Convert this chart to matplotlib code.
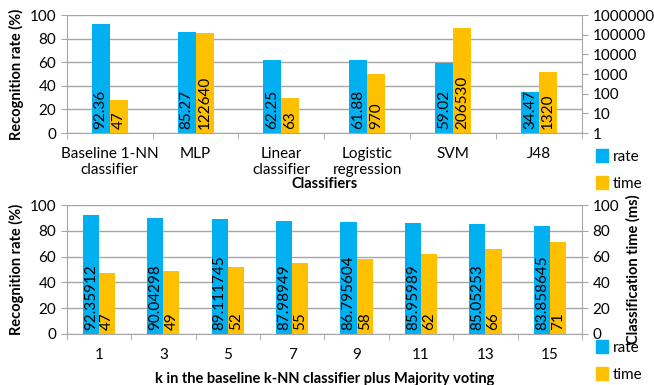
import matplotlib
matplotlib.use('Agg')
import matplotlib.pyplot as plt
import numpy as np
from matplotlib.patches import Patch

plt.rcParams['font.family'] = ['Lato', 'DejaVu Sans']
plt.rcParams['font.size'] = 10

BLUE = '#00B0F0'
ORANGE = '#FFC000'
GRID = '#A6A6A6'

# top chart data
classifiers = ['Baseline 1-NN\nclassifier', 'MLP', 'Linear\nclassifier',
               'Logistic\nregression', 'SVM', 'J48']
rate_top = [92.36, 85.27, 62.25, 61.88, 59.02, 34.47]
time_top = [47, 122640, 63, 970, 206530, 1320]

# bottom chart data
k_values = ['1', '3', '5', '7', '9', '11', '13', '15']
rate_bot = [92.35912, 90.04298, 89.111745, 87.98949, 86.795604, 85.95989, 85.05253, 83.858645]
rate_bot_lbl = ['92.35912', '90.04298', '89.111745', '87.98949', '86.795604',
                '85.95989', '85.05253', '83.858645']
time_bot = [47, 49, 52, 55, 58, 62, 66, 71]


def style(ax, ax2, n):
    ax.spines['top'].set_visible(False)
    ax2.spines['top'].set_visible(False)
    for s in ['left', 'bottom']:
        ax.spines[s].set_color(GRID)
    ax2.spines['right'].set_color(GRID)
    ax2.spines['left'].set_visible(False)
    ax2.spines['bottom'].set_visible(False)
    ax.spines['right'].set_visible(False)
    ax.set_ylim(0, 100)
    ax.set_yticks(range(0, 101, 20))
    ax.yaxis.grid(True, color=GRID, linewidth=1)
    ax.set_axisbelow(True)
    ax.set_xlim(-0.5, n - 0.5)
    ax.set_xticks(np.arange(n))
    ax.set_xticks(np.arange(n + 1) - 0.5, minor=True)
    ax.tick_params(axis='x', which='major', length=0, pad=10)
    ax.tick_params(axis='x', which='minor', length=4, color=GRID)
    ax.tick_params(axis='y', length=4, color=GRID, labelsize=11)
    ax2.tick_params(axis='y', length=4, color=GRID, labelsize=11)
    ax.set_ylabel('Recognition rate (%)', fontweight='bold', labelpad=4, fontsize=10.5)
    ax2.set_ylabel('Classification time (ms)', fontweight='bold', labelpad=5, fontsize=10.5)


def bar_labels(ax, xs, labels):
    for x, t in zip(xs, labels):
        ax.annotate(t, xy=(x, 0), xycoords=('data', 'axes fraction'),
                    xytext=(0, 3), textcoords='offset points',
                    rotation=90, ha='center', va='bottom', fontsize=11, zorder=5)


fig = plt.figure(figsize=(6.54, 3.85), dpi=100)

# ---- top
ax = fig.add_axes([0.102, 0.6545, 0.788, 0.3065])
ax2 = ax.twinx()
x = np.arange(len(classifiers))
w = 0.21
ax.bar(x - w / 2, rate_top, w, color=BLUE, zorder=2)
ax2.set_yscale('log')
ax2.set_ylim(1, 1000000)
ax2.bar(x + w / 2, [t - 1 for t in time_top], w, bottom=1, color=ORANGE, zorder=2)
ax2.set_yticks([10 ** i for i in range(7)])
ax2.set_yticklabels([str(10 ** i) for i in range(7)])
ax2.minorticks_off()
style(ax, ax2, len(classifiers))
ax.set_xticklabels(classifiers, fontsize=11)
ax.set_xlabel('Classifiers', fontweight='bold', labelpad=0, fontsize=10.5)
bar_labels(ax2, x - w / 2, [str(v) for v in rate_top])
bar_labels(ax2, x + w / 2, [str(v) for v in time_top])

# ---- bottom
bx = fig.add_axes([0.102, 0.1325, 0.788, 0.335])
bx2 = bx.twinx()
x = np.arange(len(k_values))
w = 0.25
bx.bar(x - w / 2, rate_bot, w, color=BLUE, zorder=2)
bx2.bar(x + w / 2, time_bot, w, color=ORANGE, zorder=2)
bx2.set_ylim(0, 100)
bx2.set_yticks(range(0, 101, 20))
style(bx, bx2, len(k_values))
bx.set_xticklabels(k_values, fontsize=11)
bx.set_xlabel('k in the baseline k-NN classifier plus Majority voting',
              fontweight='bold', labelpad=7, fontsize=10.5)
bar_labels(bx2, x - w / 2, rate_bot_lbl)
bar_labels(bx2, x + w / 2, [str(v) for v in time_bot])

handles = [Patch(color=BLUE, label='rate'), Patch(color=ORANGE, label='time')]
for yy in [0.612, 0.116]:
    fig.legend(handles=handles, loc='upper left', bbox_to_anchor=(0.912, yy),
               frameon=False, handlelength=0.75, handleheight=0.9,
               handletextpad=0.3, labelspacing=0.8, fontsize=11,
               borderaxespad=0, borderpad=0)

fig.savefig('out.png', dpi=100)
